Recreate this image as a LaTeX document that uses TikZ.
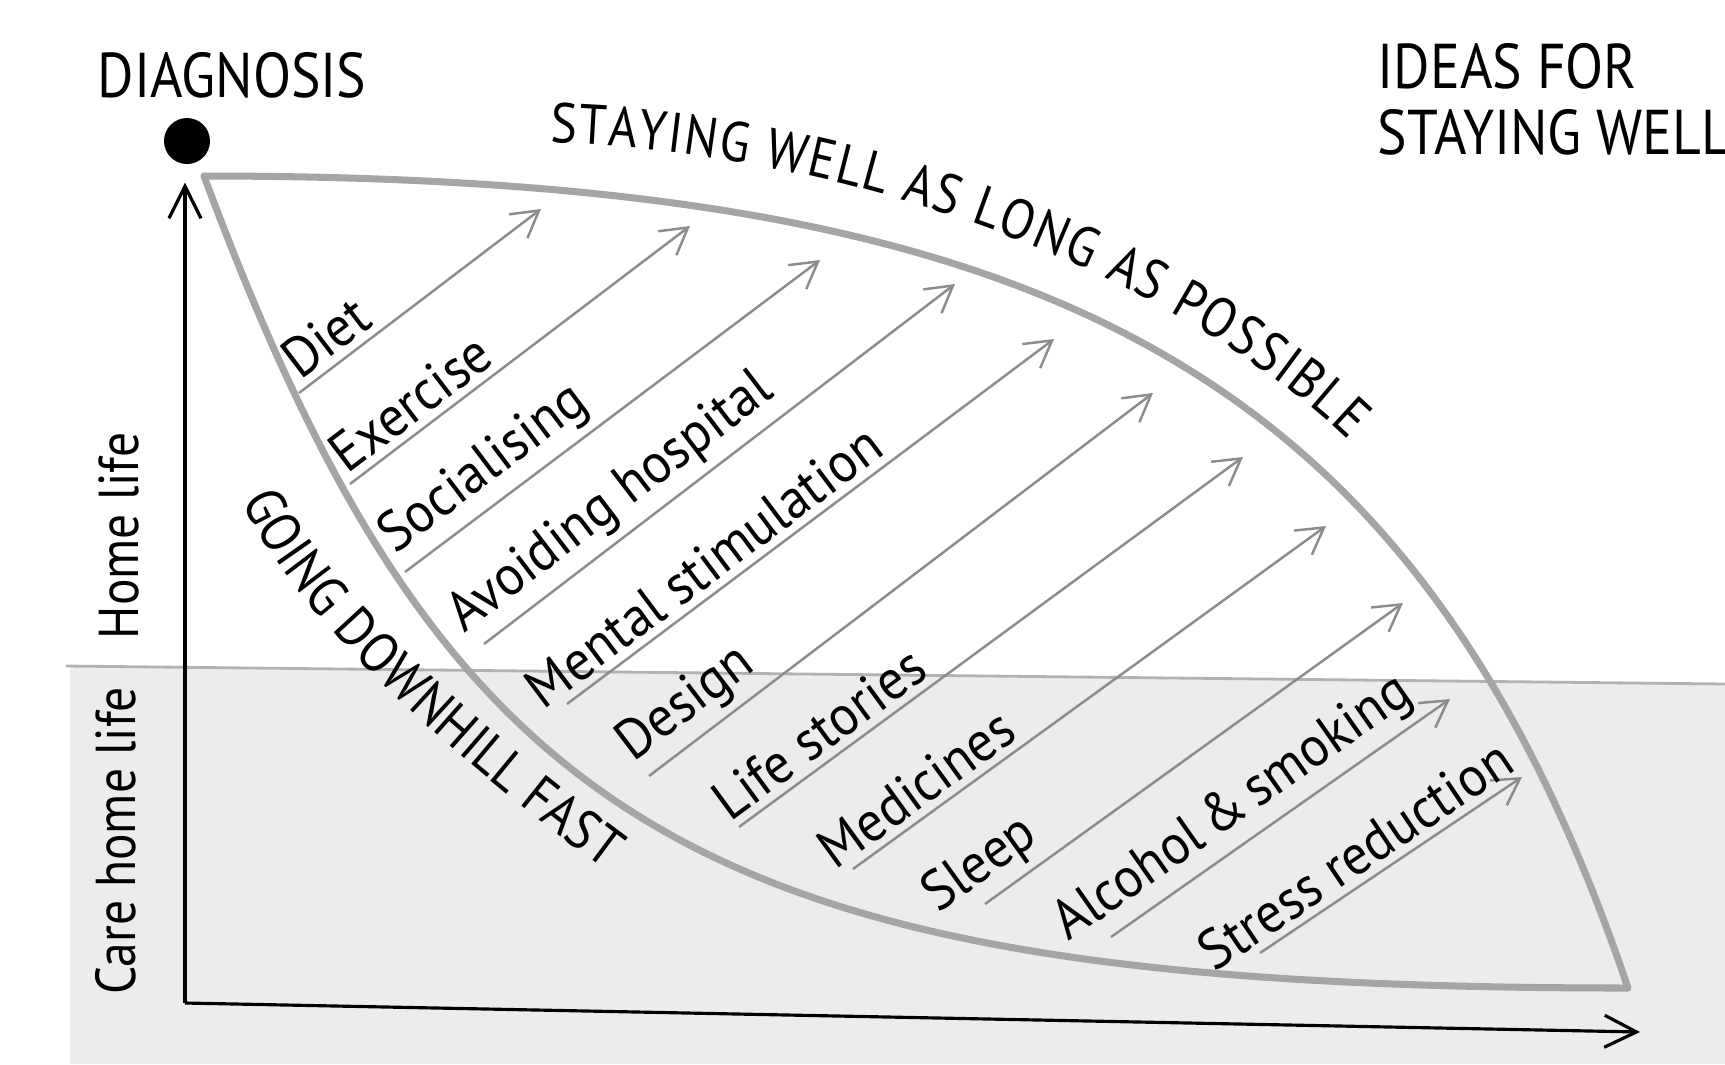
\documentclass[tikz,border=0pt]{standalone}
\usepackage{fontspec}
\setmainfont{PT Sans}[FakeStretch=0.88]
\newfontfamily\ideafont{PT Sans}[FakeStretch=0.94]
\usetikzlibrary{arrows.meta, decorations.text}
\definecolor{leafGrey}{RGB}{165, 165, 165}
\definecolor{arrowGrey}{RGB}{140, 140, 140}
\definecolor{bandGrey}{RGB}{236, 236, 236}
\newcommand{\lDiagnosis}{DIAGNOSIS}
\newcommand{\lIdeasA}{IDEAS FOR}
\newcommand{\lIdeasB}{STAYING WELL}
\newcommand{\lHome}{Home life}
\newcommand{\lCareHome}{Care home life}
\newcommand{\arcfont}{\fontsize{16}{18}\selectfont}

\begin{document}
\begin{tikzpicture} [
        title/.style={inner sep=0pt, font=\fontsize{18}{20}\selectfont},
        side label/.style={rotate=90, inner sep=0pt, font=\fontsize{16}{18}\selectfont},
        axis/.style={line width=0.9pt, -{Straight Barb[length=3.2mm, width=3.2mm]}},
        leaf/.style={draw=leafGrey, line width=2pt, line join=round, line cap=round},
        idea/.style={draw=arrowGrey, line width=0.7pt, -{Straight Barb[length=2.6mm, width=3mm]}},
        idea label/.style={sloped, anchor=south west, inner sep=2pt, font=\ideafont\fontsize{16}{18}\selectfont},
        arc text/.style={decorate, decoration={text along path, text align=fit to path, text={|\arcfont|#1}}}
    ]

    \useasboundingbox (0,0) rectangle (17.25,-10.64);

    % care home band
    \fill[bandGrey] (0.70,-6.66) -- (17.25,-6.84) -- (17.25,-10.64) -- (0.70,-10.64) -- cycle;
    \draw[black!30, line width=0.8pt] (0.66,-6.66) -- (17.25,-6.84);

    \path (0.97,-0.97) node[title, anchor=base west] (diagnosis) {\lDiagnosis};
    \path (13.77,-0.88) node[title, anchor=base west] (ideas) {\lIdeasA};
    \path (ideas.base west) ++(0,-0.66) node[title, anchor=base west] (ideas 2) {\lIdeasB};
    \path (1.19,-5.36) node[side label] (home) {\lHome};
    \path (1.16,-8.41) node[side label] (care home) {\lCareHome};

    % axes
    \path (1.87,-1.41) node[circle, fill, minimum size=0.46cm, inner sep=0pt] (diagnosis dot) {};
    \path (1.85,-10.03) coordinate (origin);
    \path (diagnosis dot.south) ++(0,-0.18) coordinate (y end);
    \path (16.40,-10.32) coordinate (x end);
    \draw[axis] (origin) -- (origin|-y end);
    \draw[axis] (origin) -- (x end);

    % leaf
    \path (2.04,-1.76) coordinate (leaf top);
    \path (16.28,-9.88) coordinate (leaf tip);
    \draw[leaf] (leaf top) .. controls (10.40,-1.76) and (14.16,-3.61) .. (leaf tip)
        .. controls (7.00,-9.88) and (4.49,-8.34) .. (leaf top);

    \path[arc text={STAYING WELL AS LONG AS POSSIBLE}] (5.50,-1.43) .. controls (8.55,-1.50) and (11.75,-2.75) .. (13.48,-4.40);
    \path[arc text={GOING DOWNHILL FAST}] (2.42,-5.01) .. controls (2.98,-6.25) and (4.72,-7.72) .. (6.05,-8.70);

    % ideas
    \foreach \i/\sx/\sy/\ex/\ey/\p/\txt in {
        1/2.99/-3.93/5.41/-2.09/0/Diet,
        2/3.50/-4.84/6.90/-2.26/-0.01/Exercise,
        3/4.05/-5.72/8.20/-2.60/-0.01/Socialising,
        4/4.84/-6.44/9.55/-2.84/-0.03/Avoiding hospital,
        5/5.67/-7.04/10.54/-3.39/-0.05/Mental stimulation,
        6/6.49/-7.76/11.53/-3.93/-0.02/Design,
        7/7.39/-8.27/12.43/-4.57/-0.02/Life stories,
        8/8.53/-8.69/13.26/-5.26/-0.04/Medicines,
        9/9.85/-9.04/14.03/-6.03/-0.10/Sleep,
        10/11.11/-9.37/14.50/-6.99/-0.11/Alcohol\,\&\,smoking,
        11/12.60/-9.53/15.22/-7.77/-0.18/Stress reduction}{
        \path (\sx,\sy) coordinate (idea start \i);
        \path (\ex,\ey) coordinate (idea end \i);
        \draw[idea] (idea start \i) -- (idea end \i) node[idea label, pos=\p] (idea label \i) {\txt};
    }

\end{tikzpicture}
\end{document}
